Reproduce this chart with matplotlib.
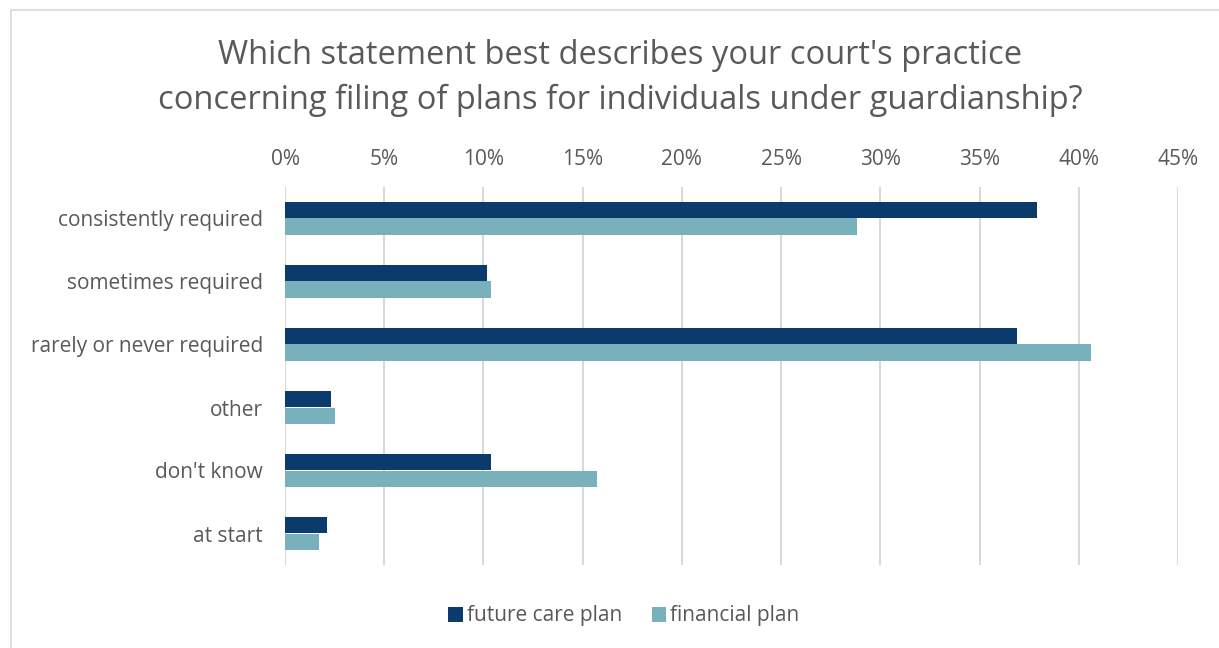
import numpy as np
import matplotlib.pyplot as plt
from matplotlib.patches import Rectangle
from matplotlib.ticker import FuncFormatter

categories = ["consistently required", "sometimes required", "rarely or never required",
              "other", "don't know", "at start"]
future_care = [37.9, 10.2, 36.9, 2.3, 10.4, 2.1]
financial = [28.8, 10.4, 40.6, 2.5, 15.7, 1.7]
xticks = [0, 5, 10, 15, 20, 25, 30, 35, 40, 45]

dark = "#0B3A6D"
light = "#78B0BC"
grey_text = "#595959"

plt.rcParams["font.family"] = ["Open Sans", "DejaVu Sans"]

fig = plt.figure(figsize=(12.19, 6.48), dpi=100)

# chart frame (cut off on right / bottom like the screenshot)
fig.patches.append(Rectangle((11 / 1219, -0.1), 1.2, 1 - 10 / 648 + 0.1,
                             transform=fig.transFigure, fill=False,
                             edgecolor="#D9D9D9", linewidth=1.2))

ax = fig.add_axes([285 / 1219, 1 - 565 / 648, (1178 - 285) / 1219, (565 - 187) / 648])

y = np.arange(len(categories))
h = 0.255
ax.barh(y - h / 2, future_care, height=h, color=dark, label="future care plan")
ax.barh(y + h / 2, financial, height=h, color=light, label="financial plan")

ax.set_xlim(0, 45)
ax.set_ylim(len(categories) - 0.5, -0.5)
ax.set_xticks(xticks)
ax.xaxis.set_major_formatter(FuncFormatter(lambda v, p: f"{v:.0f}%"))
ax.xaxis.tick_top()
ax.set_yticks(y)
ax.set_yticklabels(categories)
ax.tick_params(axis="both", length=0, labelsize=15, colors=grey_text)
ax.tick_params(axis="x", pad=12)
ax.tick_params(axis="y", pad=16)
ax.grid(axis="x", color="#D9D9D9", linewidth=1.5)
ax.set_axisbelow(True)
for s in ax.spines.values():
    s.set_visible(False)

fig.text(620 / 1219, 1 - 78 / 648,
         "Which statement best describes your court's practice\nconcerning filing of plans for individuals under guardianship?",
         ha="center", va="center", fontsize=23.5, color=grey_text, linespacing=1.45)

fig.legend(loc="center", bbox_to_anchor=(624 / 1219, 1 - 616 / 648), ncol=2,
           frameon=False, fontsize=15, handlelength=0.7, handleheight=0.7,
           handletextpad=0.2, columnspacing=1.4, labelcolor=grey_text)

fig.savefig("out.png", dpi=100)
